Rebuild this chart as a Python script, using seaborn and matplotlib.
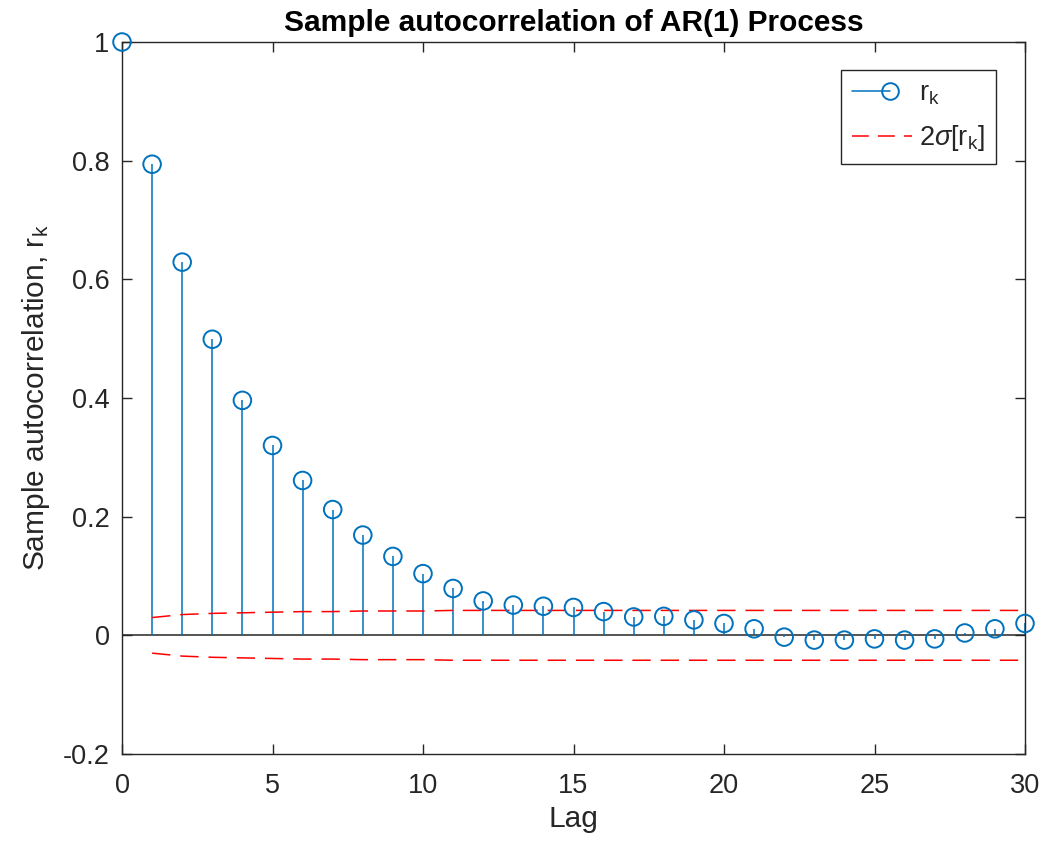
import numpy as np
import pandas as pd
import matplotlib
matplotlib.use("Agg")
import matplotlib.pyplot as plt
import seaborn as sns
from matplotlib.lines import Line2D
from matplotlib.legend_handler import HandlerBase

# ---- data ----
lags = list(range(0, 31))
r_k = [1.000, 0.794, 0.629, 0.499, 0.396, 0.320, 0.261, 0.212, 0.169, 0.133,
       0.104, 0.079, 0.058, 0.051, 0.049, 0.047, 0.040, 0.031, 0.032, 0.026,
       0.020, 0.011, -0.003, -0.008, -0.008, -0.006, -0.008, -0.006, 0.004, 0.011,
       0.020]
bound_lags = list(range(1, 31))
upper_bound = [0.030, 0.035, 0.037, 0.038, 0.039, 0.040, 0.040, 0.041, 0.041, 0.041,
               0.042, 0.042, 0.042, 0.042, 0.042, 0.042, 0.042, 0.042, 0.042, 0.042,
               0.042, 0.042, 0.042, 0.042, 0.042, 0.042, 0.042, 0.042, 0.042, 0.042]
lower_bound = [-v for v in upper_bound]
x_ticks = [0, 5, 10, 15, 20, 25, 30]
y_ticks = [-0.2, 0, 0.2, 0.4, 0.6, 0.8, 1]

title = "Sample autocorrelation of AR(1) Process"
xlabel = "Lag"
ylabel = r"Sample autocorrelation, r$_\mathregular{k}$"
leg_labels = [r"r$_\mathregular{k}$", r"2$\sigma$[r$_\mathregular{k}$]"]

BLUE = "#0072BD"
RED = "#FF0000"
DARK = "#262626"

sns.set_style("ticks")
plt.rcParams["font.family"] = ["Liberation Sans", "DejaVu Sans"]
plt.rcParams["mathtext.fontset"] = "custom"
plt.rcParams["mathtext.rm"] = "Liberation Sans"
plt.rcParams["mathtext.it"] = "Liberation Sans:italic"
plt.rcParams["mathtext.bf"] = "Liberation Sans:bold"
plt.rcParams["axes.unicode_minus"] = False

fig = plt.figure(figsize=(10.43, 8.43), dpi=100)
ax = fig.add_axes([122 / 1043, 1 - 754 / 843, (1025 - 122) / 1043, (754 - 42) / 843])

df = pd.DataFrame({"lag": lags, "r": r_k})
bdf = pd.DataFrame({"lag": bound_lags, "up": upper_bound, "lo": lower_bound})

# stems
ax.vlines(df["lag"], 0, df["r"], color=BLUE, lw=1.1, zorder=2)
# baseline
ax.plot([0, 30], [0, 0], color=DARK, lw=1.1, zorder=1)
# markers
sns.scatterplot(data=df, x="lag", y="r", ax=ax, marker="o", s=160,
                facecolors="none", edgecolor=BLUE, linewidth=1.4,
                zorder=3, clip_on=False, legend=False)
# bounds
for col in ["up", "lo"]:
    sns.lineplot(data=bdf, x="lag", y=col, ax=ax, color=RED, lw=1.1,
                 dashes=False, zorder=2, legend=False)
for ln in ax.get_lines()[1:]:
    ln.set_dashes((12, 6.5))

ax.set_xlim(0, 30)
ax.set_ylim(-0.2, 1)
ax.set_xticks(x_ticks)
ax.set_yticks(y_ticks)
ax.set_yticklabels([f"{v:g}" for v in y_ticks])
ax.tick_params(direction="in", length=7, width=1, colors=DARK, labelsize=19.5,
               top=True, right=True)
ax.tick_params(axis="x", pad=14)
ax.tick_params(axis="y", pad=9)
for s in ax.spines.values():
    s.set_visible(True)
    s.set_color(DARK)
    s.set_linewidth(1)
ax.set_xlabel(xlabel, fontsize=21.5, color=DARK, labelpad=4)
ax.set_ylabel(ylabel, fontsize=21.5, color=DARK, labelpad=8)
ax.set_title(title, fontsize=21.5, fontweight="bold", color="black", pad=8)


class StemHandler(HandlerBase):
    def create_artists(self, legend, orig_handle, xdescent, ydescent, width,
                       height, fontsize, trans):
        y = height / 2 - ydescent
        x0 = -xdescent
        x1 = -xdescent + width - 16
        l = Line2D([x0, x1], [y, y], color=BLUE, lw=1.1, transform=trans)
        m = Line2D([x1], [y], marker="o", ms=12, mfc="none", mec=BLUE,
                   mew=1.4, transform=trans)
        return [l, m]


h1 = Line2D([], [], color=BLUE)
h2 = Line2D([], [], color=RED, lw=1.1, dashes=(11, 6))
leg = ax.legend([h1, h2], leg_labels, handler_map={h1: StemHandler()},
                loc="upper right", bbox_to_anchor=(0.968, 0.961),
                fontsize=19.5, frameon=True, fancybox=False, handlelength=2.25,
                borderpad=0.4, labelspacing=0.6, handletextpad=0.25,
                borderaxespad=0)
leg.get_frame().set_edgecolor(DARK)
leg.get_frame().set_linewidth(1)
leg.get_frame().set_alpha(1)

fig.savefig("out.png", dpi=100)
